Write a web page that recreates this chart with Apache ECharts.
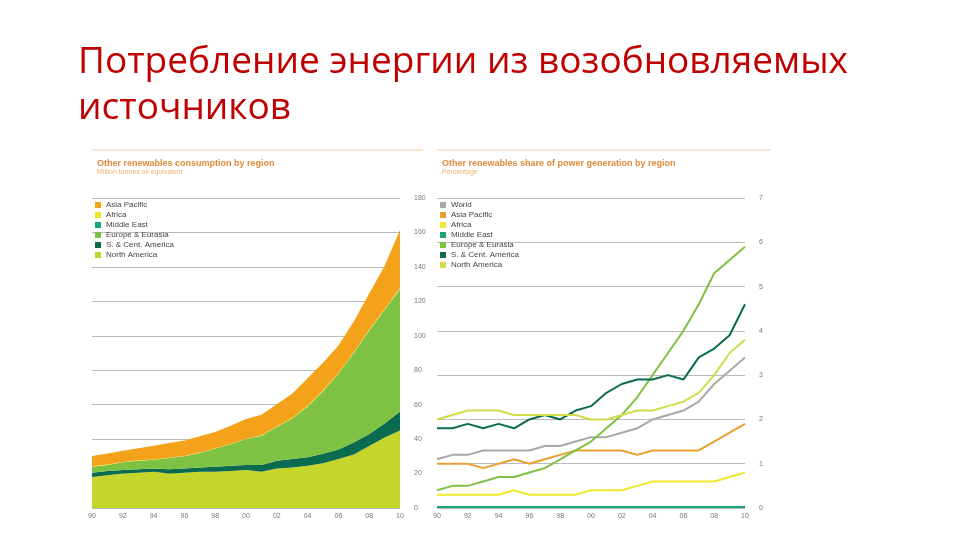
<!DOCTYPE html>
<html><head><meta charset="utf-8">
<script src="https://cdn.jsdelivr.net/npm/echarts@6/dist/echarts.min.js"></script>
<style>body{margin:0;background:#fff}#c{width:960px;height:540px}</style>
</head><body><div id="c"></div>
<script>
var years = ['90','91','92','93','94','95','96','97','98','99','00','01','02','03','04','05','06','07','08','09','10'];

// consumption by region, Mtoe (stacked)
var consNorthAmerica = [18,19,20,20.5,21,20,20.5,21,21,21.5,22,21,23,23.5,24.5,26,28.5,31,36,41,45];
var consSCAmerica = [2.5,2.5,2,2,2,2.5,2.5,2.5,3,3,3,4,4.5,5,5,5.5,5.5,7,7,8,11];
var consEurope = [3.5,3.5,4.5,5,5,6.5,7,8.5,10.5,12.5,15,17,19.5,23.5,29.5,36.5,44,52,60,66,71];
var consMiddleEast = [0,0,0,0,0,0,0,0,0,0,0,0,0,0,0,0,0,0,0.1,0.1,0.1];
var consAfrica = [0.2,0.2,0.2,0.2,0.2,0.2,0.2,0.2,0.2,0.2,0.2,0.2,0.3,0.3,0.3,0.3,0.3,0.3,0.4,0.4,0.5];
var consAsia = [6,6.5,6.5,7,8,8.5,9,9.5,9.5,10.5,11.5,12,13,14,16,16,16,18,21,25,34];

// share of power generation, %
var shWorld = [1.1,1.2,1.2,1.3,1.3,1.3,1.3,1.4,1.4,1.5,1.6,1.6,1.7,1.8,2.0,2.1,2.2,2.4,2.8,3.1,3.4];
var shAsia = [1.0,1.0,1.0,0.9,1.0,1.1,1.0,1.1,1.2,1.3,1.3,1.3,1.3,1.2,1.3,1.3,1.3,1.3,1.5,1.7,1.9];
var shAfrica = [0.3,0.3,0.3,0.3,0.3,0.4,0.3,0.3,0.3,0.3,0.4,0.4,0.4,0.5,0.6,0.6,0.6,0.6,0.6,0.7,0.8];
var shMiddleEast = [0.02,0.02,0.02,0.02,0.02,0.02,0.02,0.02,0.02,0.02,0.02,0.02,0.02,0.02,0.02,0.02,0.02,0.02,0.02,0.02,0.02];
var shEurope = [0.4,0.5,0.5,0.6,0.7,0.7,0.8,0.9,1.1,1.3,1.5,1.8,2.1,2.5,3.0,3.5,4.0,4.6,5.3,5.6,5.9];
var shSCAmerica = [1.8,1.8,1.9,1.8,1.9,1.8,2.0,2.1,2.0,2.2,2.3,2.6,2.8,2.9,2.9,3.0,2.9,3.4,3.6,3.9,4.6];
var shNorthAmerica = [2.0,2.1,2.2,2.2,2.2,2.1,2.1,2.1,2.1,2.1,2.0,2.0,2.1,2.2,2.2,2.3,2.4,2.6,3.0,3.5,3.8];

var chart = echarts.init(document.getElementById('c'));

function xAx(gi) {
    return {
        type: 'category', gridIndex: gi, data: years, boundaryGap: false,
        axisLine: {show: false}, axisTick: {show: false},
        axisLabel: {interval: 1, color: '#777', fontSize: 7, margin: 5}
    };
}
function yAx(gi, max, interval) {
    return {
        type: 'value', gridIndex: gi, min: 0, max: max, interval: interval, position: 'right',
        axisLine: {show: false}, axisTick: {show: false},
        axisLabel: {color: '#777', fontSize: 7, margin: 14},
        splitLine: {lineStyle: {color: '#bbb', width: 1}}
    };
}
function area(name, data, color) {
    return {
        name: name, type: 'line', stack: 'c', data: data, symbol: 'none',
        lineStyle: {width: 0}, areaStyle: {color: color, opacity: 1}, itemStyle: {color: color}
    };
}
function line(name, data, color) {
    return {
        name: name, type: 'line', xAxisIndex: 1, yAxisIndex: 1, data: data, symbol: 'none',
        lineStyle: {width: 2, color: color}, itemStyle: {color: color}
    };
}

var option = {
    animation: false,
    title: [{
        text: 'Потребление энергии из возобновляемых\nисточников',
        left: 73, top: 34,
        textStyle: {color: '#c00000', fontSize: 37, fontWeight: 'normal', lineHeight: 46, fontFamily: 'Open Sans'}
    }, {
        text: 'Other renewables consumption by region',
        subtext: 'Million tonnes oil equivalent',
        left: 92, top: 154, itemGap: 1,
        textStyle: {color: '#e08a3a', fontSize: 9, fontWeight: 'bold'},
        subtextStyle: {color: '#f0b070', fontSize: 7}
    }, {
        text: 'Other renewables share of power generation by region',
        subtext: 'Percentage',
        left: 437, top: 154, itemGap: 1,
        textStyle: {color: '#e08a3a', fontSize: 9, fontWeight: 'bold'},
        subtextStyle: {color: '#f0b070', fontSize: 7}
    }],
    legend: [{
        orient: 'vertical', left: 90, top: 196, itemWidth: 6, itemHeight: 6, itemGap: 2,
        icon: 'rect', textStyle: {fontSize: 8, color: '#444'},
        data: ['Asia Pacific', 'Africa', 'Middle East', 'Europe & Eurasia', 'S. & Cent. America', 'North America']
    }, {
        orient: 'vertical', left: 435, top: 196, itemWidth: 6, itemHeight: 6, itemGap: 2,
        icon: 'rect', textStyle: {fontSize: 8, color: '#444'},
        data: ['World', 'Asia Pacific ', 'Africa ', 'Middle East ', 'Europe & Eurasia ', 'S. & Cent. America ', 'North America ']
    }],
    grid: [
        {left: 92, right: 560, top: 198, bottom: 32},
        {left: 437, right: 215, top: 198, bottom: 32}
    ],
    xAxis: [xAx(0), xAx(1)],
    yAxis: [yAx(0, 180, 20), yAx(1, 7, 1)],
    series: [
        area('North America', consNorthAmerica, '#c5d52a'),
        area('S. & Cent. America', consSCAmerica, '#0b6b4e'),
        area('Europe & Eurasia', consEurope, '#7dc242'),
        area('Middle East', consMiddleEast, '#1aa37a'),
        area('Africa', consAfrica, '#f0e620'),
        area('Asia Pacific', consAsia, '#f5a21b'),
        line('World', shWorld, '#a8a8a8'),
        line('Asia Pacific ', shAsia, '#e8a030'),
        line('Africa ', shAfrica, '#f2e82a'),
        line('Middle East ', shMiddleEast, '#1aa37a'),
        line('Europe & Eurasia ', shEurope, '#7dc242'),
        line('S. & Cent. America ', shSCAmerica, '#0b6b4e'),
        line('North America ', shNorthAmerica, '#d2dc48')
    ],
    graphic: [
        {type: 'line', shape: {x1: 92, y1: 150, x2: 423, y2: 150}, style: {stroke: '#f3c9a0', lineWidth: 1}},
        {type: 'line', shape: {x1: 437, y1: 150, x2: 770, y2: 150}, style: {stroke: '#f3c9a0', lineWidth: 1}}
    ]
};
chart.setOption(option);
</script>
</body></html>
